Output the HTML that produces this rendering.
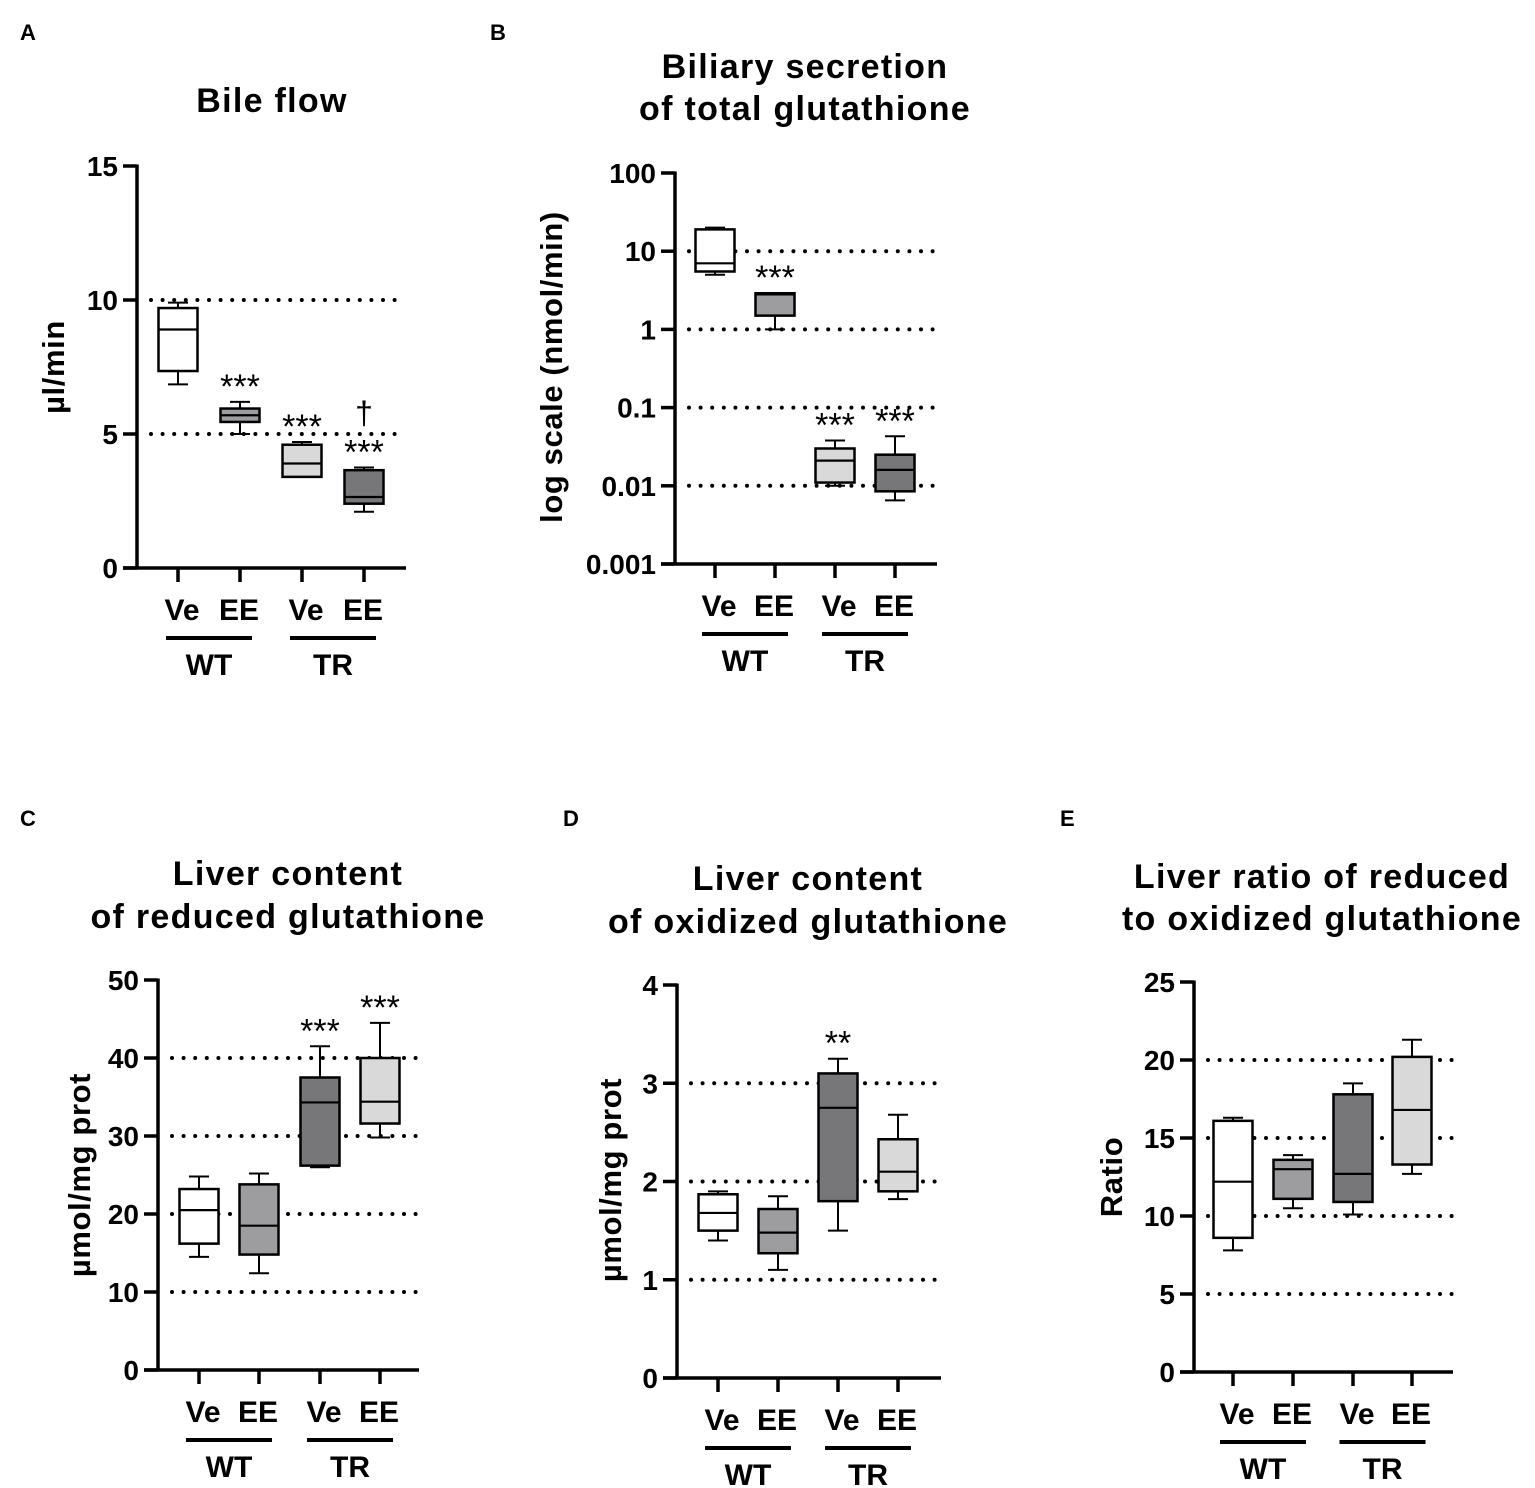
<!DOCTYPE html>
<html><head><meta charset="utf-8">
<style>
html,body{margin:0;padding:0;background:#fff;}
svg{display:block;font-family:"Liberation Sans",Arial,sans-serif;font-weight:bold;}
</style></head>
<body>
<svg id="fig" width="1535" height="1488" viewBox="0 0 1535 1488" xmlns="http://www.w3.org/2000/svg">
<g font-size="22">
<text x="20" y="40">A</text>
<text x="490" y="40">B</text>
<text x="20" y="826">C</text>
<text x="563" y="826">D</text>
<text x="1060" y="826">E</text>
</g>
<g font-size="34" letter-spacing="1.3" text-anchor="middle">
<text x="272" y="112">Bile flow</text>
<text x="805" y="78">Biliary secretion</text>
<text x="805" y="120">of total glutathione</text>
<text x="288" y="885">Liver content</text>
<text x="288" y="928">of reduced glutathione</text>
<text x="808" y="890">Liver content</text>
<text x="808" y="933">of oxidized glutathione</text>
<text x="1322" y="888">Liver ratio of reduced</text>
<text x="1322" y="930">to oxidized glutathione</text>
</g>
</svg>
<script>
// Panel A data
const aTicks = [0, 5, 10, 15];
const aGrid = [5, 10];
const aMin = [6.85, 5.0, 3.4, 2.1];
const aQ1 = [7.35, 5.45, 3.4, 2.4];
const aMed = [8.9, 5.7, 3.9, 2.65];
const aQ3 = [9.7, 5.95, 4.6, 3.65];
const aMax = [9.9, 6.2, 4.7, 3.75];
const aStars = ["", "***", "***", "***"];
// Panel B data (log)
const bTicks = [0.001, 0.01, 0.1, 1, 10, 100];
const bTickLabels = ["0.001", "0.01", "0.1", "1", "10", "100"];
const bGrid = [0.01, 0.1, 1, 10];
const bMin = [5, 1.0, 0.01, 0.0065];
const bQ1 = [5.5, 1.5, 0.011, 0.0085];
const bMed = [7, 2.8, 0.021, 0.016];
const bQ3 = [19, 2.9, 0.03, 0.025];
const bMax = [20, 2.9, 0.038, 0.043];
const bStars = ["", "***", "***", "***"];
// Panel C data
const cTicks = [0, 10, 20, 30, 40, 50];
const cGrid = [10, 20, 30, 40];
const cMin = [14.5, 12.4, 26, 29.8];
const cQ1 = [16.2, 14.8, 26.2, 31.6];
const cMed = [20.5, 18.5, 34.3, 34.4];
const cQ3 = [23.2, 23.8, 37.5, 40];
const cMax = [24.8, 25.2, 41.5, 44.5];
const cStars = ["", "", "***", "***"];
// Panel D data
const dTicks = [0, 1, 2, 3, 4];
const dGrid = [1, 2, 3];
const dMin = [1.4, 1.1, 1.5, 1.82];
const dQ1 = [1.5, 1.27, 1.8, 1.9];
const dMed = [1.68, 1.48, 2.75, 2.1];
const dQ3 = [1.87, 1.72, 3.1, 2.43];
const dMax = [1.9, 1.85, 3.25, 2.68];
const dStars = ["", "", "**", ""];
// Panel E data
const eTicks = [0, 5, 10, 15, 20, 25];
const eGrid = [5, 10, 15, 20];
const eMin = [7.8, 10.5, 10.1, 12.7];
const eQ1 = [8.6, 11.1, 10.9, 13.3];
const eMed = [12.2, 13.0, 12.7, 16.8];
const eQ3 = [16.1, 13.6, 17.8, 20.2];
const eMax = [16.3, 13.9, 18.5, 21.3];
const eStars = ["", "", "", ""];

const NS = "http://www.w3.org/2000/svg";
const svg = document.getElementById("fig");
function mk(tag, attrs, parent) {
  const e = document.createElementNS(NS, tag);
  for (const k in attrs) e.setAttribute(k, attrs[k]);
  (parent || svg).appendChild(e);
  return e;
}
const WHITE="#ffffff", MID="#9d9d9f", LIGHT="#d9d9d9", DARK="#77777a";

function panel(p) {
  const g = mk("g", {});
  
  
  const log = p.log;
  const f = v => log ? Math.log10(v) : v;
  const y = v => p.y0 + (f(v) - f(p.vmin)) / (f(p.vmax) - f(p.vmin)) * (p.y1 - p.y0);
  p.grid.forEach(v => {
    const l = mk("line", {x1:p.ax+14, x2:p.xend, y1:y(v), y2:y(v), stroke:"#000", "stroke-width":4, "stroke-dasharray":"0 11.6", "stroke-linecap":"round"}, g);
    
    
  });
  const ya = mk("line", {x1:p.ax, x2:p.ax, y1:p.y1-1.5, y2:p.y0+1.5, stroke:"#000", "stroke-width":3.5}, g);
  
  
  const xa = mk("line", {x1:p.ax-14, x2:p.xend, y1:p.y0, y2:p.y0, stroke:"#000", "stroke-width":3.5}, g);
  
  
  p.ticks.forEach((v, i) => {
    const t = mk("line", {x1:p.ax-14, x2:p.ax, y1:y(v), y2:y(v), stroke:"#000", "stroke-width":3.5}, g);
    
    
    const tl = mk("text", {x:p.ax-19, y:y(v)+10, "text-anchor":"end", "font-size":28}, g);
    tl.textContent = p.tickLabels ? p.tickLabels[i] : String(v);
    
    
  });
  const yt = mk("text", {x:0, y:0, "text-anchor":"middle", "font-size":31, "letter-spacing":0.6, transform:`translate(${p.ytx},${p.yty}) rotate(-90)`}, g);
  yt.textContent = p.ytitle;
  
  
  const bw = 39;
  const names = ["wt-ve", "wt-ee", "tr-ve", "tr-ee"];
  const labs = ["Ve", "EE", "Ve", "EE"];
  p.cx.forEach((cx, i) => {
    const t = mk("line", {x1:cx, x2:cx, y1:p.y0, y2:p.y0+14, stroke:"#000", "stroke-width":3.5}, g);
    
    
    const bg = mk("g", {}, g);
    
    
    mk("line", {x1:cx, x2:cx, y1:y(p.max[i]), y2:y(p.q3[i]), stroke:"#000", "stroke-width":2}, bg);
    mk("line", {x1:cx, x2:cx, y1:y(p.q1[i]), y2:y(p.min[i]), stroke:"#000", "stroke-width":2}, bg);
    mk("line", {x1:cx-10, x2:cx+10, y1:y(p.max[i]), y2:y(p.max[i]), stroke:"#000", "stroke-width":2}, bg);
    mk("line", {x1:cx-10, x2:cx+10, y1:y(p.min[i]), y2:y(p.min[i]), stroke:"#000", "stroke-width":2}, bg);
    mk("rect", {x:cx-bw/2, y:y(p.q3[i]), width:bw, height:Math.max(1, y(p.q1[i])-y(p.q3[i])), fill:p.fills[i], stroke:"#000", "stroke-width":2.5}, bg);
    mk("line", {x1:cx-bw/2, x2:cx+bw/2, y1:y(p.med[i]), y2:y(p.med[i]), stroke:"#000", "stroke-width":2.2}, bg);
    if (p.stars[i]) {
      const s = mk("text", {x:cx, y:y(p.max[i])-4, "text-anchor":"middle", "font-size":34, "font-weight":"normal"}, g);
      s.textContent = p.stars[i];
      
      
    }
    const xl = mk("text", {x:cx + (i%2===0 ? 4 : -1), y:p.y0+52, "text-anchor":"middle", "font-size":30}, g);
    xl.textContent = labs[i];
    
    
  });
  [["WT",0],["TR",2]].forEach(([lab, k]) => {
    const c = (p.cx[k] + p.cx[k+1]) / 2;
    const b = mk("line", {x1:c-43, x2:c+43, y1:p.y0+70, y2:p.y0+70, stroke:"#000", "stroke-width":4}, g);
    
    
    const t = mk("text", {x:c, y:p.y0+107, "text-anchor":"middle", "font-size":30}, g);
    t.textContent = lab;
    
    
  });
}

panel({id:"a", ax:137, y0:568, y1:166, vmin:0, vmax:15, xend:406, ticks:aTicks, grid:aGrid,
  min:aMin, q1:aQ1, med:aMed, q3:aQ3, max:aMax, stars:aStars, cx:[178,240,302,364],
  fills:[WHITE,MID,LIGHT,DARK], ytitle:"µl/min", ytx:64, yty:367});
panel({id:"b", ax:675, y0:564, y1:173, vmin:0.001, vmax:100, log:true, xend:937, ticks:bTicks, tickLabels:bTickLabels, grid:bGrid,
  min:bMin, q1:bQ1, med:bMed, q3:bQ3, max:bMax, stars:bStars, cx:[715,775,835,895],
  fills:[WHITE,MID,LIGHT,DARK], ytitle:"log scale (nmol/min)", ytx:562, yty:367});
panel({id:"c", ax:158, y0:1370, y1:980, vmin:0, vmax:50, xend:419, ticks:cTicks, grid:cGrid,
  min:cMin, q1:cQ1, med:cMed, q3:cQ3, max:cMax, stars:cStars, cx:[199,259,320,380],
  fills:[WHITE,MID,DARK,LIGHT], ytitle:"µmol/mg prot", ytx:90, yty:1175});
panel({id:"d", ax:677, y0:1378, y1:985, vmin:0, vmax:4, xend:941, ticks:dTicks, grid:dGrid,
  min:dMin, q1:dQ1, med:dMed, q3:dQ3, max:dMax, stars:dStars, cx:[718,778,838,898],
  fills:[WHITE,MID,DARK,LIGHT], ytitle:"µmol/mg prot", ytx:621, yty:1180});
panel({id:"e", ax:1194, y0:1372, y1:982, vmin:0, vmax:25, xend:1453, ticks:eTicks, grid:eGrid,
  min:eMin, q1:eQ1, med:eMed, q3:eQ3, max:eMax, stars:eStars, cx:[1233,1293,1353,1412],
  fills:[WHITE,MID,DARK,LIGHT], ytitle:"Ratio", ytx:1122, yty:1177});
const dg = mk("text", {x:364, y:424, "text-anchor":"middle", "font-size":32, "font-weight":"normal"});
dg.textContent = "†";


</script>
</body></html>
